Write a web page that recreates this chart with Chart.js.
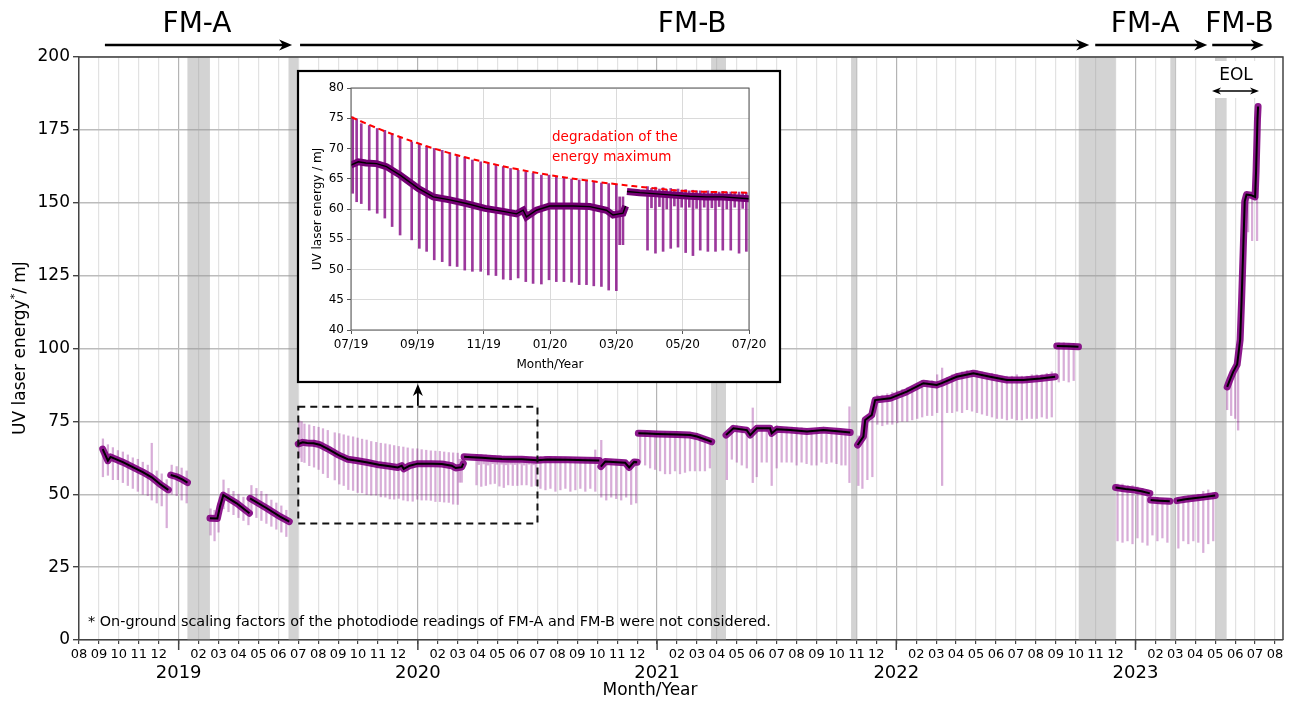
<!DOCTYPE html>
<html><head><meta charset="utf-8">
<script src="https://cdn.jsdelivr.net/npm/chart.js@4.4.1/dist/chart.umd.min.js"></script>
<style>
html,body{margin:0;padding:0;background:#fff;}
#wrap{position:relative;width:1293px;height:702px;overflow:hidden;}
#main{position:absolute;left:0;top:0;width:1293px;height:702px;}
#inset{position:absolute;left:298px;top:71px;width:482px;height:311px;}
</style></head><body>
<div id="wrap"><canvas id="main" width="1293" height="702"></canvas><canvas id="inset" width="482" height="311"></canvas></div>
<script>
// ---------- DATA (x = months since 08/2018, y = UV laser energy in mJ) ----------
const monthNames = ['01','02','03','04','05','06','07','08','09','10','11','12'];
const yearTicks  = [5, 17, 29, 41, 53];
const yearLabels = ['2019','2020','2021','2022','2023'];
const insetTicks = [11, 13, 15, 17, 19, 21, 23];
const insetTickLabels = ['07/19','09/19','11/19','01/20','03/20','05/20','07/20'];
const phaseLabels = ['FM-A','FM-B','FM-A','FM-B'];

// periods without data (grey bands) [from, to]
const gapBands = [[5.43,6.57],[10.5,11.0],[31.71,32.46],[38.73,39.06],[50.14,52.0],[54.74,55.04],[57.0,57.58]];

// daily trend (black line) per continuous segment
const trendA1 = [[1.19,65.5],[1.45,61.5],[1.58,62.8],[2.2,61.0],[2.7,59.3],[3.2,57.6],[3.65,55.8],[4.06,53.5],[4.48,51.5]];
const trendA2 = [[4.6,56.6],[4.9,56.0],[5.2,55.0],[5.44,54.0]];
const trendA3 = [[6.57,41.8],[6.94,41.7],[7.07,45.7],[7.24,49.7],[7.91,46.9],[8.55,43.5]];
const trendA4 = [[8.58,48.6],[9.42,45.2],[10.09,42.3],[10.55,40.6]];
const trendB1 = [[11.0,67.25],[11.22,67.8],[11.45,67.6],[11.77,67.5],[12.07,67.0],[12.48,65.6],[13.03,63.4],[13.48,62.0],[13.98,61.5],[14.48,60.9],[15.04,60.1],[15.59,59.6],[15.99,59.2],[16.19,59.8],[16.29,58.7],[16.59,59.8],[16.99,60.5],[17.7,60.5],[18.2,60.4],[18.7,59.8],[18.9,59.0],[19.2,59.3],[19.28,60.5]];
const trendB2 = [[19.32,62.9],[19.7,62.7],[20.21,62.5],[20.71,62.3],[21.21,62.1],[21.71,62.0],[22.21,62.0],[23.0,61.7],[23.5,61.9],[24.5,61.8],[25.5,61.7],[26.1,61.6]];
const trendB3 = [[26.18,59.5],[26.4,61.2],[27.0,61.0],[27.4,60.8],[27.6,59.2],[27.85,61.1],[28.0,61.0]];
const trendB4 = [[28.06,70.9],[28.5,70.8],[29.0,70.7],[29.5,70.6],[30.0,70.5],[30.66,70.3],[31.0,69.8],[31.5,68.6],[31.74,68.0]];
const trendB5 = [[32.46,70.3],[32.83,72.6],[33.5,72.0],[33.67,70.3],[34.0,72.6],[34.67,72.6],[34.75,70.9],[35.0,72.3],[35.68,72.0],[36.52,71.5],[37.35,72.0],[38.19,71.5],[38.69,71.2]];
const trendB6 = [[39.06,66.9],[39.35,69.8],[39.44,75.5],[39.77,77.2],[39.94,82.3],[40.69,82.9],[41.53,85.2],[42.36,88.1],[43.03,87.5],[43.28,88.1],[44.03,90.3],[44.87,91.5],[45.71,90.3],[46.55,89.2],[47.38,89.2],[48.22,89.7],[48.97,90.3]];
const trendB7 = [[49.05,100.9],[49.6,100.8],[50.14,100.6]];
const trendC1 = [[52.0,52.3],[52.5,51.8],[52.9,51.5],[53.3,51.0],[53.72,50.3]];
const trendC2 = [[53.76,48.0],[54.2,47.8],[54.72,47.6]];
const trendC3 = [[55.08,47.8],[55.5,48.3],[55.91,48.6],[56.5,49.1],[57.0,49.6]];
const trendD  = [[57.6,86.8],[57.75,89.5],[57.9,92.0],[58.1,94.5],[58.25,103.0],[58.32,116.0],[58.4,133.0],[58.48,150.5],[58.57,152.8],[58.8,152.6],[59.0,152.0],[59.05,160.9],[59.12,178.7],[59.15,183.0]];

// individual-shot excursions [x, low, high]
const spikesFMA1 = [[1.2,56,69],[1.45,56.5,67],[1.7,55,66],[1.95,55,65],[2.2,54,64.5],[2.45,53,63.5],[2.7,52,62.5],[2.95,51,62],[3.2,50,61],[3.45,49.5,60],[3.65,48,67.5],[3.9,47,58],[4.15,46,57],[4.4,38.5,55],
  [4.65,50,60],[4.9,49.5,59.5],[5.15,48,59],[5.4,47,58],
  [6.6,36,45],[6.8,34,44.5],[7.0,37,47],[7.25,45,54.9],[7.5,44,52],[7.75,43,51],[8.0,42,50],[8.25,41,49],[8.5,39.5,48],
  [8.65,43,53],[8.9,42,52],[9.15,41,51],[9.4,40,50],[9.65,39,48],[9.9,38,47],[10.15,37,46],[10.4,35.5,44.5]];
const spikesInset = [[11.05,62.6,75.2],[11.17,61.2,74.9],[11.31,60.9,74.1],[11.55,59.8,73.8],[11.79,59.3,73.3],[12.02,58.5,73.0],[12.24,57.1,72.5],[12.48,55.7,71.9],[12.83,54.9,71.1],[13.06,53.5,70.8],[13.28,53.0,70.4],[13.51,51.6,70.0],[13.75,51.3,69.7],[13.98,50.6,69.3],[14.2,50.5,68.9],[14.43,49.9,68.6],[14.66,49.7,68.1],[14.91,49.7,67.8],[15.14,49.1,67.5],[15.37,49.0,67.3],[15.59,48.4,67.0],[15.81,48.3,66.7],[16.04,48.6,66.4],[16.27,48.0,66.2],[16.49,47.7,65.9],[16.74,47.6,65.6],[16.97,48.3,65.6],[17.19,48.0,65.3],[17.42,48.0,65.1],[17.65,47.9,64.9],[17.88,47.5,64.8],[18.1,47.5,64.7],[18.32,47.3,64.5],[18.55,47.2,64.3],[18.77,46.6,64.2],[19.0,46.5,64.1],[19.1,54.1,62.0],[19.2,54.1,62.0]];
const spikesInset2 = [[19.94,53.2,63.7],[20.06,60.2,63.4],[20.18,52.7,63.6],[20.3,60.4,63.3],[20.41,53.0,63.5],[20.52,60.0,63.2],[20.64,53.5,63.4],[20.75,60.5,63.2],[20.86,53.7,63.3],[20.97,60.3,63.1],[21.09,52.8,63.2],[21.2,60.3,63.0],[21.31,52.3,63.1],[21.42,60.1,63.0],[21.53,53.2,63.0],[21.65,60.3,62.9],[21.76,53.0,63.0],[21.88,60.2,62.9],[21.99,53.0,62.9],[22.1,60.4,62.8],[22.21,53.2,62.9],[22.33,60.0,62.8],[22.45,53.2,62.8],[22.57,60.3,62.7],[22.7,52.7,62.8],[22.81,60.1,62.7],[22.92,53.0,62.7]];
const spikesFMB2 = [[23.15,52,63],[23.4,51.5,63],[23.65,52,62.8],[23.9,51,62.8],[24.15,51.5,62.7],[24.4,52,62.7],[24.65,51,62.6],[24.9,51.5,62.6],[25.15,52,62.5],[25.4,51,62.5],[25.65,52,62.5],[25.9,51,65.2],
  [26.2,49,68.5],[26.45,48,62],[26.7,49,62],[26.95,48.5,62],[27.2,48,61.5],[27.45,49,61.5],[27.7,46.5,61],[27.95,47,62],
  [28.15,61,71.5],[28.4,60,71.5],[28.65,59,71.5],[28.9,58.5,71.5],[29.15,58,71.3],[29.4,57,71.3],[29.65,57,71.2],[29.9,58,71],[30.15,57,71],[30.4,57.5,70.8],[30.65,58,70.8],[30.9,58,70.5],[31.15,58,70],[31.4,58,69.5],[31.65,59,68.7],
  [32.5,55,71.5],[32.75,62,73.5],[33.0,61,73.5],[33.25,60,73],[33.5,59,73],[33.8,54,79.6],[34.0,56,73],[34.25,61,73],[34.5,61,73],[34.75,53,73],[35.0,59,73.5],[35.25,61,73],[35.5,61,73],[35.75,61,73],[36.0,60,72.8],[36.25,61,72.8],[36.5,60.5,72.6],[36.75,60,72.6],[37.0,60,72.5],[37.25,61,72.5],[37.5,60.5,72.5],[37.75,61,72.3],[38.0,60.5,72.3],[38.25,60,72.2],[38.45,60,72.2],[38.65,54,80],
  [39.1,53,70],[39.3,52,71],[39.55,55,77],[39.8,56,78.5],[40.05,74,84],[40.3,73.5,84],[40.55,74,84.5],[40.8,74,85],[41.05,74.5,85.5],[41.3,75,86],[41.55,75,86.5],[41.8,75.5,87],[42.05,76,88],[42.3,76.5,89],[42.55,77,89],[42.8,77,89],[43.05,78,91],[43.3,53,93.3],[43.55,78,90],[43.8,78,91],[44.05,78.5,91.5],[44.3,78,92],[44.55,79,92.5],[44.8,78.5,92.5],[45.05,78,92.5],[45.3,77.5,92],[45.55,77,91.5],[45.8,76.5,91.5],[46.05,76,91],[46.3,76,90.5],[46.55,75.5,90.5],[46.8,76,90.5],[47.05,75.5,91],[47.3,75.5,90.5],[47.55,76,90.5],[47.8,76,91],[48.05,76,91],[48.3,76.5,91],[48.55,76,91.5],[48.8,76.5,92],
  [49.15,88.5,102],[49.4,89,102],[49.65,88.5,101.8],[49.9,89,101.8]];
const spikesFMA2 = [[52.1,34,53.5],[52.35,33.5,53.5],[52.6,34,53],[52.85,33,53],[53.1,35,52.5],[53.35,33.5,52],[53.6,32.5,51.5],
  [53.85,36,49],[54.1,34,49],[54.35,35,48.5],[54.6,33.5,48.5],
  [55.15,31.5,49],[55.4,34,49],[55.65,33,49.5],[55.9,34,49.5],[56.15,33.5,50],[56.4,30,51],[56.65,33,51.5],[56.9,34,50.5]];
const spikesEOL = [[57.6,79,88],[57.8,77,92],[58.0,76,95],[58.15,72,96],[58.65,140,153.5],[58.85,137,153.5],[59.1,137,155]];

// degradation of the energy maximum (red dashed, inset)
const maxEnvelope = [[11,75.2],[12,72.9],[13,70.9],[14,69.2],[15,67.8],[16,66.6],[17,65.6],[18,64.8],[19,64.1],[20,63.5],[21,63.0],[22,62.8],[23,62.7]];

// ---------- BUILD ----------
const F = "'DejaVu Sans', sans-serif";
Chart.defaults.font.family = F;
Chart.defaults.color = '#000';

function joinSegs(segs){
  const out=[];
  segs.forEach((s,i)=>{
    if(i>0){ const p=segs[i-1][segs[i-1].length-1]; out.push({x:(p[0]+s[0][0])/2, y:null}); }
    s.forEach(p=>out.push({x:p[0], y:p[1]}));
  });
  return out;
}
const trendAll = joinSegs([trendA1,trendA2,trendA3,trendA4,trendB1,trendB2,trendB3,trendB4,trendB5,trendB6,trendB7,trendC1,trendC2,trendC3,trendD]);
const trendInset = joinSegs([trendB1,trendB2]);
const toBars = arr => arr.map(s=>({x:s[0], y:[s[1], s[2]]}));
const spikesAll = toBars([].concat(spikesFMA1,spikesInset,spikesInset2,spikesFMB2,spikesFMA2,spikesEOL));

const bandDs = gapBands.map(b=>({type:'line', data:[{x:b[0],y:200},{x:b[1],y:200}], fill:'origin',
  backgroundColor:'rgba(150,150,150,0.42)', borderWidth:0, pointRadius:0, order:10}));

function isJan(v){ return yearTicks.indexOf(v) >= 0; }
function monthLabel(v){ const n = monthNames[(v+7)%12]; return n === '01' ? '' : n; }

function arrowHead(ctx, tipX, tipY, dx, dy, len, half){
  const px=-dy, py=dx;
  ctx.beginPath();
  ctx.moveTo(tipX, tipY);
  ctx.lineTo(tipX - dx*len + px*half, tipY - dy*len + py*half);
  ctx.lineTo(tipX - dx*len*0.7, tipY - dy*len*0.7);
  ctx.lineTo(tipX - dx*len - px*half, tipY - dy*len - py*half);
  ctx.closePath(); ctx.fill();
}

const decor = {
  id:'decor',
  afterDraw(chart){
    const {ctx, chartArea:a, scales:{x,y}} = chart;
    ctx.save();
    ctx.strokeStyle='#444'; ctx.lineWidth=1.5;
    ctx.beginPath(); ctx.moveTo(a.left,a.top); ctx.lineTo(a.right,a.top); ctx.lineTo(a.right,a.bottom); ctx.stroke();
    yearTicks.forEach(v=>{ const px=x.getPixelForValue(v); ctx.beginPath(); ctx.moveTo(px,a.bottom); ctx.lineTo(px,a.bottom+10); ctx.stroke(); });
    const bx0=x.getPixelForValue(11), bx1=x.getPixelForValue(23), by0=y.getPixelForValue(80), by1=y.getPixelForValue(40);
    ctx.strokeStyle='#111'; ctx.lineWidth=2; ctx.setLineDash([7,5]);
    ctx.strokeRect(bx0,by0,bx1-bx0,by1-by0); ctx.setLineDash([]);
    ctx.fillStyle='#fff'; ctx.fillRect(298,71,482,311);
    ctx.strokeStyle='#000'; ctx.lineWidth=2.2; ctx.strokeRect(298,71,482,311);
    const mx=(bx0+bx1)/2;
    ctx.fillStyle='#000'; ctx.lineWidth=1.8;
    ctx.beginPath(); ctx.moveTo(mx,by0-1); ctx.lineTo(mx,392); ctx.stroke();
    arrowHead(ctx, mx, 384, 0, -1, 12, 5);
    ctx.fillStyle='#fff'; ctx.fillRect(1209,61,54,37);
    ctx.fillStyle='#000'; ctx.font='17px '+F; ctx.textAlign='center'; ctx.textBaseline='middle';
    ctx.fillText('EOL', 1236, 76);
    ctx.lineWidth=1.4; ctx.beginPath(); ctx.moveTo(1218,91); ctx.lineTo(1253,91); ctx.stroke();
    arrowHead(ctx, 1212, 91, -1, 0, 9, 3.5); arrowHead(ctx, 1259, 91, 1, 0, 9, 3.5);
    const phases=[[1.3,10.69,5.92],[11.09,50.68,30.76],[50.98,56.6,53.49],[56.85,59.43,58.22]];
    ctx.lineWidth=2.6; ctx.strokeStyle='#000'; ctx.fillStyle='#000';
    phases.forEach((p,i)=>{
      const x0=x.getPixelForValue(p[0]), x1=x.getPixelForValue(p[1]);
      ctx.beginPath(); ctx.moveTo(x0,45); ctx.lineTo(x1-8,45); ctx.stroke();
      arrowHead(ctx, x1, 45, 1, 0, 13, 5.5);
      ctx.font='28px '+F; ctx.textAlign='center'; ctx.textBaseline='middle';
      ctx.fillText(phaseLabels[i], x.getPixelForValue(p[2]), 25);
    });
    ctx.font='14.4px '+F; ctx.textAlign='left'; ctx.textBaseline='middle';
    ctx.fillText('* On-ground scaling factors of the photodiode readings of FM-A and FM-B were not considered.', 88, 622);
    ctx.font='17px '+F; ctx.textAlign='center';
    ctx.fillText('Month/Year', 650, 691);
    ctx.translate(21, 348); ctx.rotate(-Math.PI/2);
    ctx.font='17px '+F; const t1='UV laser energy', t3='/ mJ';
    const w1=ctx.measureText(t1).width, w3=ctx.measureText(t3).width;
    ctx.font='11px '+F; const w2=ctx.measureText('*').width;
    const s=-(w1+w2+w3)/2;
    ctx.textAlign='left'; ctx.font='17px '+F;
    ctx.fillText(t1, s, 0); ctx.fillText(t3, s+w1+w2, 0);
    ctx.font='11px '+F; ctx.fillText('*', s+w1, -6);
    ctx.restore();
  }
};

new Chart(document.getElementById('main'), {
  type:'line',
  data:{datasets:[...bandDs,
    {type:'bar', data:spikesAll, backgroundColor:'rgba(135,0,135,0.32)', borderWidth:0, barThickness:1.6, grouped:false, order:5},
    {type:'line', data:trendAll, borderColor:'rgba(128,0,128,0.9)', borderWidth:7, pointRadius:0, spanGaps:false, borderCapStyle:'round', borderJoinStyle:'round', order:3},
    {type:'line', data:trendAll, borderColor:'#000', borderWidth:2, pointRadius:0, spanGaps:false, order:1}
  ]},
  options:{
    responsive:false, animation:false, devicePixelRatio:1,
    layout:{padding:{top:57,right:10,left:0,bottom:0}},
    plugins:{legend:{display:false}, tooltip:{enabled:false}},
    scales:{
      x:{type:'linear', min:0, max:60.4, position:'bottom', offset:false,
        afterBuildTicks:s=>{ const t=[]; for(let v=0; v<=60; v++) t.push({value:v}); s.ticks=t; },
        ticks:{callback:v=>monthLabel(v), font:{size:13}, color:'#000', maxRotation:0, autoSkip:false, padding:3},
        grid:{offset:false, color:c=> (c.tick && isJan(c.tick.value)) ? '#b4b4b4' : '#e2e2e2', lineWidth:1.2, tickLength:4, tickColor:'#444'},
        border:{color:'#444', width:1.5},
        afterFit:s=>{ s.height=22; }},
      x2:{type:'linear', min:0, max:60.4, position:'bottom', offset:false,
        afterBuildTicks:s=>{ s.ticks=yearTicks.map(v=>({value:v})); },
        ticks:{callback:(v,i)=>yearLabels[i], font:{size:18}, color:'#000', maxRotation:0, autoSkip:false, padding:1},
        grid:{display:false, drawTicks:false, offset:false}, border:{display:false},
        afterFit:s=>{ s.height=40; }},
      y:{min:0, max:200,
        ticks:{stepSize:25, font:{size:17}, color:'#000', padding:3},
        grid:{color:'#bcbcbc', lineWidth:1.4, tickLength:6, tickColor:'#444'},
        border:{color:'#444', width:1.5},
        afterFit:s=>{ s.width=79; }}
    }
  },
  plugins:[decor]
});

// ---------- INSET ----------
const insetDecor = {
  id:'insetDecor',
  afterDraw(chart){
    const {ctx, chartArea:a} = chart;
    ctx.save();
    ctx.strokeStyle='#555'; ctx.lineWidth=1;
    ctx.strokeRect(a.left, a.top, a.right-a.left, a.bottom-a.top);
    ctx.fillStyle='#000'; ctx.font='12px '+F; ctx.textAlign='center'; ctx.textBaseline='middle';
    ctx.fillText('Month/Year', (a.left+a.right)/2, 294);
    ctx.fillStyle='#ff0000'; ctx.font='13.5px '+F; ctx.textAlign='left';
    ctx.fillText('degradation of the', 254, 66);
    ctx.fillText('energy maximum', 254, 86);
    ctx.fillStyle='#000'; ctx.font='12px '+F; ctx.textAlign='center';
    ctx.translate(20, (a.top+a.bottom)/2); ctx.rotate(-Math.PI/2);
    ctx.fillText('UV laser energy / mJ', 0, 0);
    ctx.restore();
  }
};

new Chart(document.getElementById('inset'), {
  type:'line',
  data:{datasets:[
    {type:'bar', data:toBars([].concat(spikesInset,spikesInset2)), backgroundColor:'rgba(128,0,128,0.78)', borderWidth:0, barThickness:2, grouped:false, order:5},
    {type:'line', data:trendInset, borderColor:'#740074', borderWidth:7, pointRadius:0, spanGaps:false, order:3},
    {type:'line', data:trendInset, borderColor:'#000', borderWidth:1.4, pointRadius:0, spanGaps:false, order:2},
    {type:'line', data:maxEnvelope.map(p=>({x:p[0],y:p[1]})), borderColor:'#ff0000', borderWidth:2, borderDash:[6,4], pointRadius:0, tension:0.4, order:1}
  ]},
  options:{
    responsive:false, animation:false, devicePixelRatio:1,
    layout:{padding:{top:17,right:31,left:0,bottom:0}},
    plugins:{legend:{display:false}, tooltip:{enabled:false}},
    scales:{
      x:{type:'linear', min:11, max:23, offset:false,
        afterBuildTicks:s=>{ s.ticks=insetTicks.map(v=>({value:v})); },
        ticks:{callback:(v,i)=>insetTickLabels[i], font:{size:12}, color:'#000', maxRotation:0, autoSkip:false, padding:4},
        grid:{offset:false, color:'#dadada', lineWidth:1, tickLength:4, tickColor:'#555'},
        border:{display:false},
        afterFit:s=>{ s.height=52; }},
      y:{min:40, max:80,
        ticks:{stepSize:5, font:{size:12}, color:'#000', padding:3},
        grid:{color:'#dadada', lineWidth:1, tickLength:4, tickColor:'#555'},
        border:{display:false},
        afterFit:s=>{ s.width=53; }}
    }
  },
  plugins:[insetDecor]
});
</script>
</body></html>
